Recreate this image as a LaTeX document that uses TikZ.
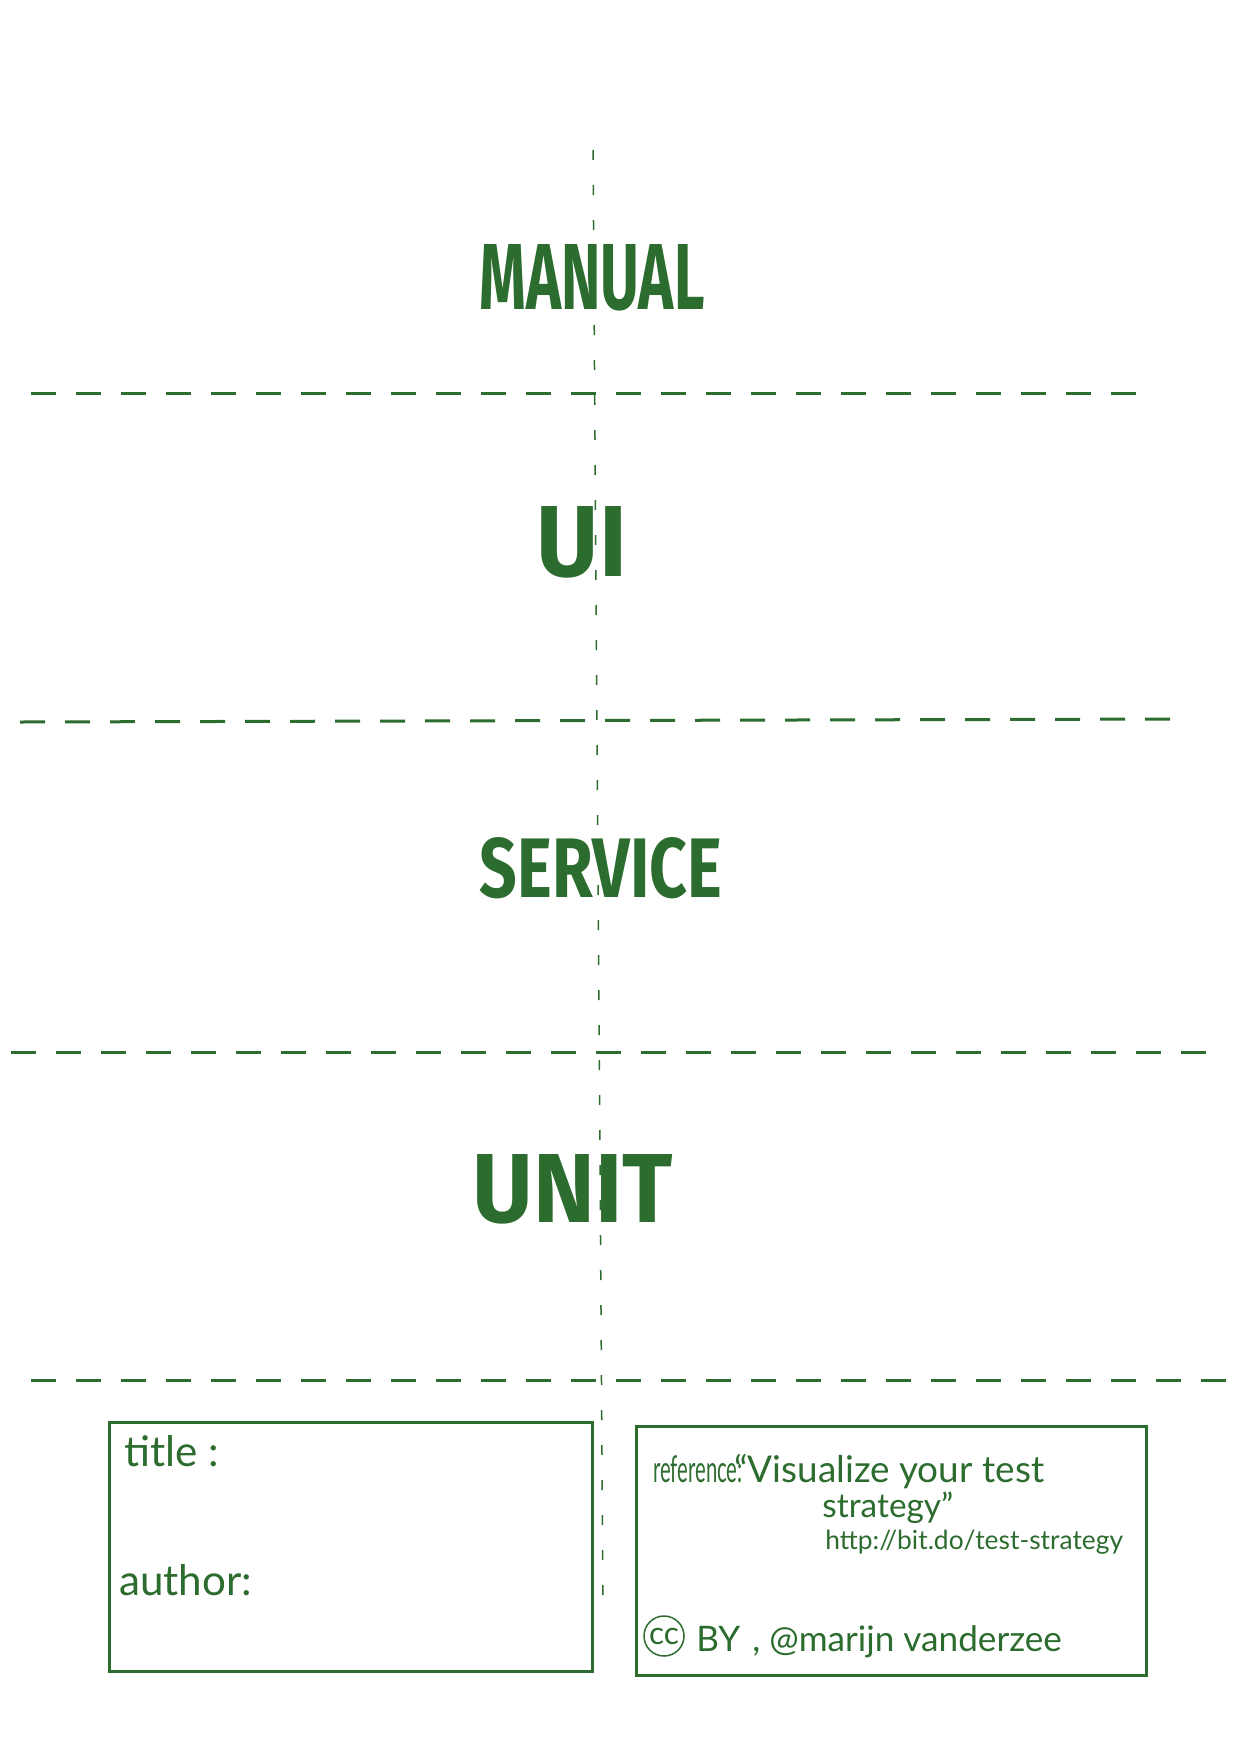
\documentclass[tikz,border=0pt]{standalone}
\usepackage{fontspec}
\setmainfont{Lato}
\newfontfamily\markerfont{Fira Sans}
\definecolor{ink}{RGB}{44,108,46}
\usetikzlibrary{positioning}

\begin{document}
\begin{tikzpicture}[x=0.2mm,y=-0.2mm]

        \useasboundingbox (0,0) rectangle (1237,1750);

        % middle line, drawn first
        \coordinate (top)    at (593,150);
        \coordinate (bottom) at (603,1600);
        \draw[ink,line width=0.3mm,dash pattern=on 2mm off 5mm] (top) -- (bottom);

        \begin{scope}[every node/.style={text=ink,font=\markerfont\bfseries,inner sep=0pt}]
          \node (manual)  at (592,278)  {\resizebox{45mm}{13mm}{MANUAL}};
          \node (ui)      at (582,542)  {\resizebox{18mm}{14mm}{UI}};
          \node (service) at (601,868)  {\resizebox{48.4mm}{12mm}{SERVICE}};
          \node (unit)    at (573,1189) {\resizebox{40mm}{13.6mm}{UNIT}};
        \end{scope}

        \begin{scope}[every path/.style={draw=ink,line width=0.6mm,dash pattern=on 5mm off 4mm}]
          \coordinate (a1) at (31,393);   \coordinate (b1) at (1141,393);
          \coordinate (a2) at (20,722);   \coordinate (b2) at (1181,719);
          \coordinate (a3) at (11,1052);  \coordinate (b3) at (1222,1052);
          \coordinate (a4) at (31,1380);  \coordinate (b4) at (1226,1380);
          \path (a1) -- (b1);
          \path (a2) -- (b2);
          \path (a3) -- (b3);
          \path (a4) -- (b4);
        \end{scope}

        \begin{scope}[ink,line width=0.6mm]
          \draw (109,1422) rectangle (592,1671);
          \draw (636,1426) rectangle (1146,1675);
        \end{scope}

        \begin{scope}[every node/.style={text=ink,inner sep=0pt,anchor=base west}]
          \node[font=\fontsize{24}{24}\selectfont] (title)  at (124,1466) {title :};
          \node[font=\fontsize{24}{24}\selectfont] (author) at (119,1595) {author:};

          \node[font=\fontsize{21}{21}\selectfont] (ref)   at (653,1482) {\scalebox{0.55}[1]{reference:}};
          \node[font=\fontsize{21}{21}\selectfont] (vis)   at (734,1482) {“Visualize your test};
          \node[font=\fontsize{19}{19}\selectfont] (strat) at (822,1517) {strategy”};
          \node[font=\fontsize{15}{15}\selectfont] (link)  at (825,1549) {http://bit.do/test-strategy};

          \node[draw=ink,line width=0.3mm,circle,minimum size=8mm,anchor=center,
                font=\fontsize{18}{18}\selectfont] (cc) at (664,1636) {cc};
          \node[font=\fontsize{20}{20}\selectfont] (by)   at (696,1651) {BY};
          \node[font=\fontsize{20}{20}\selectfont] (name) at (752,1651) {, @marijn vanderzee};
        \end{scope}

\end{tikzpicture}
\end{document}
